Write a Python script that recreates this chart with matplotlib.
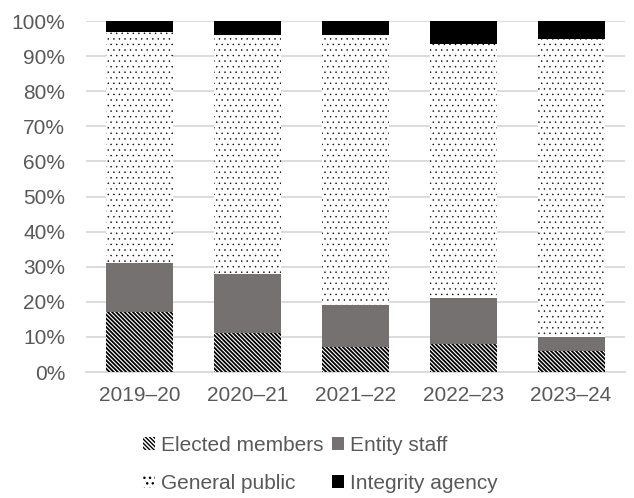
#!/usr/bin/env python3
"""
Complaint sources by year - stacked 100% bar chart
"""

import matplotlib
matplotlib.use('Agg')
import matplotlib.pyplot as plt
from matplotlib.ticker import PercentFormatter

# Data (share of complaints, %)
years = ['2019–20', '2020–21', '2021–22', '2022–23', '2023–24']
elected_members = [17, 11, 7, 8, 6]
entity_staff = [14, 17, 12, 13, 4]
general_public = [66, 68, 77, 72.5, 85]
integrity_agency = [3, 4, 4, 6.5, 5]

TEXT = '#595959'
GRID = '#d9d9d9'

plt.rcParams['font.family'] = ['Liberation Sans', 'DejaVu Sans']
plt.rcParams['font.size'] = 15

fig = plt.figure(figsize=(6.34, 4.98), dpi=100)
ax = fig.add_axes([86 / 634, 1 - 372 / 498, (625 - 86) / 634, (372 - 21) / 498])

x = list(range(len(years)))
width = 0.62


def set_hatch_lw(bars, lw):
    for p in bars:
        if hasattr(p, 'set_hatch_linewidth'):
            p.set_hatch_linewidth(lw)


# Stack the series
bottom = [0] * len(years)
with plt.rc_context({'hatch.linewidth': 1.3}):
    bars_elected = ax.bar(x, elected_members, width, bottom=bottom, color='white',
                          edgecolor='black', linewidth=0, hatch='\\' * 8,
                          label='Elected members', zorder=3)
set_hatch_lw(bars_elected, 1.3)
bottom = [b + v for b, v in zip(bottom, elected_members)]
bars_entity = ax.bar(x, entity_staff, width, bottom=bottom, color='#767171',
                     linewidth=0, label='Entity staff', zorder=3)
bottom = [b + v for b, v in zip(bottom, entity_staff)]
with plt.rc_context({'hatch.linewidth': 0.3}):
    bars_public = ax.bar(x, general_public, width, bottom=bottom, color='white',
                         edgecolor='black', linewidth=0, hatch='...',
                         label='General public', zorder=3)
set_hatch_lw(bars_public, 0.3)
bottom = [b + v for b, v in zip(bottom, general_public)]
bars_integrity = ax.bar(x, integrity_agency, width, bottom=bottom, color='black',
                        linewidth=0, label='Integrity agency', zorder=3)

ax.set_xlim(-0.5, len(years) - 0.5)
ax.set_ylim(0, 100)
ax.set_yticks(range(0, 101, 10))
ax.yaxis.set_major_formatter(PercentFormatter(decimals=0))
ax.set_xticks(x)
ax.set_xticklabels(years)

ax.grid(axis='y', color=GRID, linewidth=1.3, zorder=0)
ax.set_axisbelow(True)
for side in ['top', 'right', 'left']:
    ax.spines[side].set_visible(False)
ax.spines['bottom'].set_color(GRID)
ax.spines['bottom'].set_linewidth(1.3)
ax.tick_params(axis='both', length=0, colors=TEXT, labelsize=15)
ax.tick_params(axis='y', pad=15)
ax.tick_params(axis='x', pad=10)

# Legend: row 1 Elected / Entity, row 2 General / Integrity
handles = [bars_elected, bars_public, bars_entity, bars_integrity]
labels = [h.get_label() for h in handles]
fig.legend(handles, labels, ncol=2, loc='center', bbox_to_anchor=(0.5055, 0.068),
           frameon=False, handlelength=0.57, handleheight=0.57, handletextpad=0.3,
           columnspacing=0.38, labelspacing=0.9, labelcolor=TEXT, fontsize=15)

plt.savefig('out.png', dpi=100)
